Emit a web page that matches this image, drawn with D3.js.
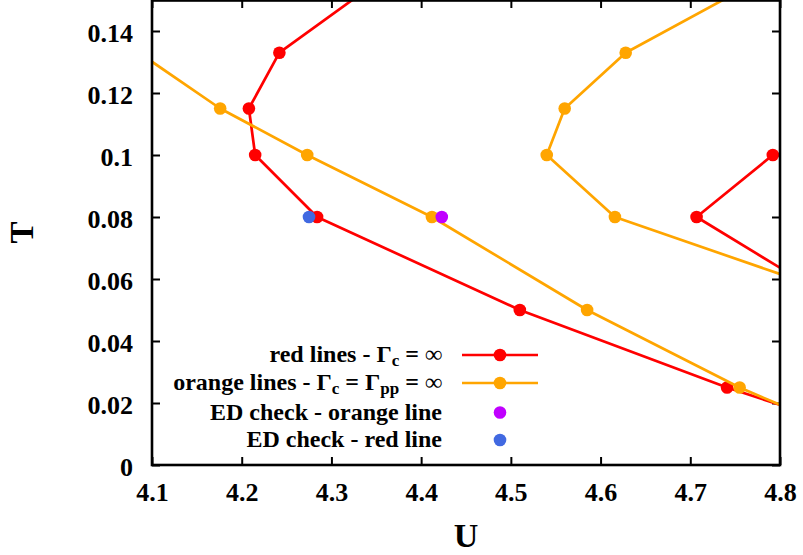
<!DOCTYPE html>
<html>
<head>
<meta charset="utf-8">
<script src="https://cdn.jsdelivr.net/npm/d3@7"></script>
<style>
  body { margin: 0; background: #ffffff; }
  .tick text { font-family: "Liberation Serif", serif; font-weight: bold; font-size: 26px; fill: #000; }
</style>
</head>
<body>
<svg id="chart" width="803" height="555"></svg>
<script>
// Transition lines in the (U, T) plane
// Red lines: Gamma_c = infinity
const redMainU  = [4.39, 4.242, 4.208, 4.215, 4.284, 4.510, 4.741, 4.85];
const redMainT  = [0.164, 0.133, 0.115, 0.100, 0.080, 0.050, 0.025, 0.0146];
const redRightU = [4.792, 4.707, 4.90];
const redRightT = [0.100, 0.080, 0.046];

// Orange lines: Gamma_c = Gamma_pp = infinity
const orangeMainU  = [4.05, 4.176, 4.273, 4.412, 4.585, 4.755, 4.85];
const orangeMainT  = [0.140, 0.115, 0.100, 0.080, 0.050, 0.025, 0.0132];
const orangeRightU = [4.80, 4.628, 4.560, 4.540, 4.616, 4.90];
const orangeRightT = [0.160, 0.133, 0.115, 0.100, 0.080, 0.0516];

// Exact diagonalization checks
const edOrangeU = [4.423];
const edOrangeT = [0.080];
const edRedU = [4.275];
const edRedT = [0.080];

// Axis ticks
const xTickValues = [4.1, 4.2, 4.3, 4.4, 4.5, 4.6, 4.7, 4.8];
const xTickLabels = ["4.1", "4.2", "4.3", "4.4", "4.5", "4.6", "4.7", "4.8"];
const yTickValues = [0, 0.02, 0.04, 0.06, 0.08, 0.10, 0.12, 0.14];
const yTickLabels = ["0", "0.02", "0.04", "0.06", "0.08", "0.1", "0.12", "0.14"];

const RED = "#ff0000", ORANGE = "#ffa500", PURPLE = "#c000ff", BLUE = "#4169e1";

const svg = d3.select("#chart");
const plotL = 152, plotR = 780, plotT = 0, plotB = 465;

const x = d3.scaleLinear().domain([4.1, 4.8]).range([plotL, plotR]);
const y = d3.scaleLinear().domain([0, 0.15]).range([plotB, plotT]);

svg.append("defs").append("clipPath").attr("id", "plotClip")
  .append("rect").attr("x", plotL).attr("y", plotT)
  .attr("width", plotR - plotL).attr("height", plotB - plotT);

// Axes with inward ticks on all four sides
const tickLen = 8;
const gB = svg.append("g").attr("transform", `translate(0,${plotB})`)
  .call(d3.axisBottom(x).tickValues(xTickValues)
    .tickFormat((d, i) => xTickLabels[i]).tickSize(-tickLen).tickPadding(tickLen + 10));
const gL = svg.append("g").attr("transform", `translate(${plotL},0)`)
  .call(d3.axisLeft(y).tickValues(yTickValues)
    .tickFormat((d, i) => yTickLabels[i]).tickSize(-tickLen).tickPadding(tickLen + 11));
const gT = svg.append("g").attr("transform", `translate(0,${plotT})`)
  .call(d3.axisTop(x).tickValues(xTickValues).tickFormat("").tickSize(-tickLen));
const gR = svg.append("g").attr("transform", `translate(${plotR},0)`)
  .call(d3.axisRight(y).tickValues(yTickValues).tickFormat("").tickSize(-tickLen));

[gB, gL, gT, gR].forEach(g => {
  g.select(".domain").remove();
  g.selectAll(".tick line").attr("stroke", "#000").attr("stroke-width", 2);
});
gL.selectAll(".tick text").attr("dy", "0.40em");
gB.selectAll(".tick text").attr("dy", "0.71em");

// Data layer
const plot = svg.append("g").attr("clip-path", "url(#plotClip)");
const line = d3.line().x(d => x(d[0])).y(d => y(d[1]));

function series(us, ts, color, withLine) {
  const pts = us.map((u, i) => [u, ts[i]]);
  if (withLine) {
    plot.append("path").datum(pts).attr("d", line)
      .attr("fill", "none").attr("stroke", color).attr("stroke-width", 2.7)
      .attr("stroke-linejoin", "round");
  }
  plot.append("g").selectAll("circle").data(pts).join("circle")
    .attr("cx", d => x(d[0])).attr("cy", d => y(d[1])).attr("r", 6.3)
    .attr("fill", color);
}

series(redMainU, redMainT, RED, true);
series(redRightU, redRightT, RED, true);
series(orangeMainU, orangeMainT, ORANGE, true);
series(orangeRightU, orangeRightT, ORANGE, true);
series(edOrangeU, edOrangeT, PURPLE, false);
series(edRedU, edRedT, BLUE, false);

// Frame
svg.append("rect").attr("x", plotL).attr("y", plotT + 0.5)
  .attr("width", plotR - plotL).attr("height", plotB - plotT - 0.5)
  .attr("fill", "none").attr("stroke", "#000").attr("stroke-width", 2.6);

// Axis titles
svg.append("text").attr("x", (plotL + plotR) / 2).attr("y", 547)
  .attr("text-anchor", "middle")
  .style("font-family", "'Liberation Serif', serif").style("font-weight", "bold")
  .style("font-size", "34px").text("U");
svg.append("text").attr("transform", `translate(33,${(plotT + plotB) / 2}) rotate(-90)`)
  .attr("text-anchor", "middle")
  .style("font-family", "'Liberation Serif', serif").style("font-weight", "bold")
  .style("font-size", "33px").text("T");

// Legend
const legend = svg.append("g")
  .style("font-family", "'Liberation Serif', serif").style("font-weight", "bold")
  .style("font-size", "24px");
const legTextX = 442, legLineX0 = 462, legLineX1 = 538, legMarkX = 500;
const legRows = [
  { y: 355, color: RED, line: true, parts: [["red lines - Γ", 0], ["c", 1], [" = ∞", 0]] },
  { y: 383, color: ORANGE, line: true, parts: [["orange lines - Γ", 0], ["c", 1], [" = Γ", 0], ["pp", 1], [" = ∞", 0]] },
  { y: 412.5, color: PURPLE, line: false, parts: [["ED check - orange line", 0]] },
  { y: 440, color: BLUE, line: false, parts: [["ED check - red line", 0]] }
];
legRows.forEach(r => {
  const t = legend.append("text").attr("x", legTextX).attr("y", r.y + 7)
    .attr("text-anchor", "end");
  let shifted = false;
  r.parts.forEach(([s, sub]) => {
    const ts = t.append("tspan").text(s);
    if (sub) {
      ts.attr("dy", 4).style("font-size", "17px");
      shifted = true;
    } else if (shifted) {
      ts.attr("dy", -4);
      shifted = false;
    }
  });
  if (r.line) {
    legend.append("line").attr("x1", legLineX0).attr("x2", legLineX1)
      .attr("y1", r.y).attr("y2", r.y)
      .attr("stroke", r.color).attr("stroke-width", 2.7);
  }
  legend.append("circle").attr("cx", legMarkX).attr("cy", r.y).attr("r", 6.3)
    .attr("fill", r.color);
});
</script>
</body>
</html>
